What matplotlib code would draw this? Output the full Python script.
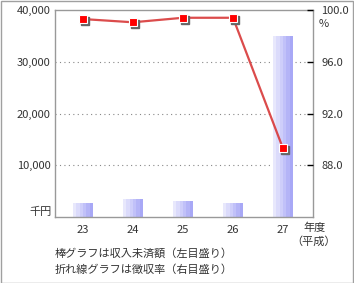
import numpy as np
import matplotlib
matplotlib.use("Agg")
import matplotlib.pyplot as plt
from matplotlib.colors import LinearSegmentedColormap
from matplotlib.patches import Rectangle
import matplotlib.transforms as mtransforms

plt.rcParams['font.family'] = ['Noto Sans CJK JP', 'DejaVu Sans']

years = [23, 24, 25, 26, 27]
year_labels = ['23', '24', '25', '26', '27']
arrears = [2700, 3300, 2900, 2600, 34800]          # 収入未済額 (千円)
collection_rate = [99.3, 99.05, 99.4, 99.4, 89.3]  # 徴収率 (%)
left_ticks = [10000, 20000, 30000, 40000]
left_labels = ['10,000', '20,000', '30,000', '40,000']
right_ticks = [88, 92, 96, 100]
right_labels = ['88.0', '92.0', '96.0', '100.0']

W, H = 354, 283
fig = plt.figure(figsize=(W / 100, H / 100), dpi=100)
fig.patch.set_facecolor('white')
fig.patches.append(Rectangle((0.5 / W, 0.5 / H), 1 - 1.5 / W, 1 - 1.5 / H,
                             transform=fig.transFigure, fill=False,
                             edgecolor='#a0a0a0', linewidth=1.0))

ax = fig.add_axes([55 / W, (H - 217) / H, 258 / W, 207 / H])
ax.set_xlim(22.44, 27.6)
ax.set_ylim(0, 40000)
txt = '#333333'

cmap = LinearSegmentedColormap.from_list('g', ['#e8e8fc', '#c8c8fa', '#a8a8f6'])
grad = np.linspace(0, 1, 6).reshape(1, -1)
bw = 0.4
for x, v in zip(years, arrears):
    ax.imshow(grad, cmap=cmap, extent=[x - bw / 2, x + bw / 2, 0, v],
              aspect='auto', interpolation='nearest', zorder=2)
ax.set_xlim(22.44, 27.6)
ax.set_ylim(0, 40000)

for y in left_ticks[:-1]:
    ax.axhline(y, color='#888888', linestyle=(0, (1, 3)), linewidth=0.8, zorder=1)

ax.set_yticks(left_ticks)
ax.set_yticklabels(left_labels)
ax.tick_params(axis='y', length=0, pad=3, labelsize=8, labelcolor=txt)
ax.set_xticks(years)
ax.set_xticklabels(year_labels)
ax.tick_params(axis='x', length=0, pad=6, labelsize=8, labelcolor=txt)
for s in ax.spines.values():
    s.set_color('#999999')
    s.set_linewidth(1.0)

ax.text(-3 / 258, 0.025, '千円', transform=ax.transAxes, ha='right', va='center',
        fontsize=8, color=txt)

ax2 = ax.twinx()
ax2.set_ylim(84, 100)
ax2.set_xlim(22.44, 27.6)
ax2.set_yticks(right_ticks)
ax2.set_yticklabels(right_labels)
ax2.tick_params(axis='y', direction='in', length=4, width=1, color='black',
                pad=6, labelsize=8, labelcolor=txt)
for s in ax2.spines.values():
    s.set_visible(False)
ax2.text(1 + 6 / 258, 1 - 14 / 207, '%', transform=ax2.transAxes, ha='left',
         va='center', fontsize=8, color=txt)

ax2.plot(years, collection_rate, color='#d83838', linewidth=1.6, zorder=3, alpha=0.9)
shadow = mtransforms.offset_copy(ax2.transData, fig=fig, x=2, y=-2, units='dots')
ax2.plot(years, collection_rate, linestyle='none', marker='s', markersize=6,
         markerfacecolor='#666666', markeredgecolor='#666666', transform=shadow, zorder=4)
ax2.plot(years, collection_rate, linestyle='none', marker='s', markersize=6,
         markerfacecolor='#ff0000', markeredgecolor='white', markeredgewidth=0.8, zorder=5)

fig.text(315 / W, 1 - 228 / H, '年度', ha='center', va='center', fontsize=8, color=txt)
fig.text(314 / W, 1 - 242 / H, '（平成）', ha='center', va='center', fontsize=8, color=txt)
fig.text(55 / W, 1 - 253 / H, '棒グラフは収入未済額（左目盛り）', ha='left', va='center',
         fontsize=8, color=txt)
fig.text(55 / W, 1 - 270 / H, '折れ線グラフは徴収率（右目盛り）', ha='left', va='center',
         fontsize=8, color=txt)

fig.savefig('out.png', dpi=100, facecolor='white')
